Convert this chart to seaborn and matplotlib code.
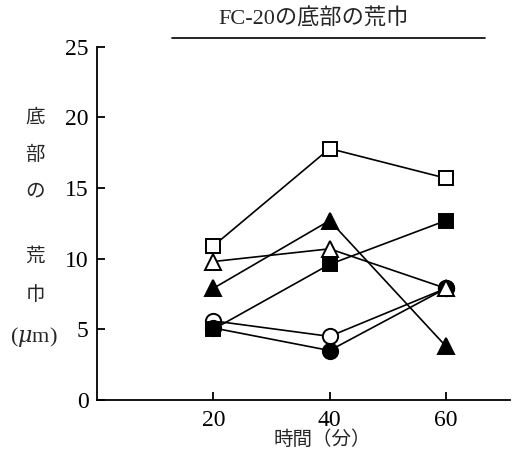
import matplotlib
matplotlib.use("Agg")
import matplotlib.pyplot as plt
import seaborn as sns
import pandas as pd

sns.set_theme(style="ticks")
plt.rcParams['font.family'] = ['Liberation Serif', 'Noto Sans CJK JP']
plt.rcParams['mathtext.fontset'] = 'dejavuserif'

times = [20, 40, 60]
open_square = [10.9, 17.8, 15.7]
filled_square = [5.0, 9.6, 12.7]
open_triangle = [9.8, 10.7, 7.9]
filled_triangle = [7.9, 12.7, 3.8]
open_circle = [5.6, 4.5, 7.9]
filled_circle = [5.1, 3.5, 7.9]

series = [
    ("open_circle", open_circle, "o", "white"),
    ("filled_circle", filled_circle, "o", "black"),
    ("open_triangle", open_triangle, "^", "white"),
    ("filled_triangle", filled_triangle, "^", "black"),
    ("open_square", open_square, "s", "white"),
    ("filled_square", filled_square, "s", "black"),
]

fig = plt.figure(figsize=(5.13, 4.55), dpi=100)
ax = fig.add_axes([0.189, 0.121, 0.805, 0.776])

for i, (name, vals, mk, fc) in enumerate(series):
    df = pd.DataFrame({"t": times, "v": vals})
    ms = 11 if mk == "o" else (12 if mk == "^" else 10)
    sns.lineplot(data=df, x="t", y="v", ax=ax, color="black", linewidth=1.2,
                 marker=mk, markersize=ms, markerfacecolor=fc,
                 markeredgecolor="black", markeredgewidth=1.4,
                 errorbar=None, zorder=3 + i)

ax.set_xlim(0, 71)
ax.set_ylim(0, 25)
ax.set_xticks([20, 40, 60])
ax.set_yticks([0, 5, 10, 15, 20, 25])
ax.tick_params(direction="in", length=6, width=1.3, labelsize=17, colors="black", pad=7)
ax.tick_params(axis="y", pad=6)
for s in ["top", "right"]:
    ax.spines[s].set_visible(False)
for s in ["left", "bottom"]:
    ax.spines[s].set_linewidth(1.3)
    ax.spines[s].set_color("black")
ax.set_xlabel("")
ax.set_ylabel("")

# title with underline
fig.text(0.612, 0.958, "FC-20の底部の荒巾", ha="center", va="center", fontsize=16)
fig.add_artist(plt.Line2D([0.335, 0.945], [0.917, 0.917], color="black", linewidth=1.2))

# x label
fig.text(0.628, 0.033, "時間（分）", ha="center", va="center", fontsize=14)

# vertical stacked y label
ychars = [("底", 118), ("部", 155), ("の", 192), ("荒", 257), ("巾", 295)]
for ch, py in ychars:
    fig.text(35 / 513, 1 - py / 455, ch, ha="center", va="center", fontsize=14)
fig.text(34 / 513, 1 - 337 / 455, "($\\mu$m)", ha="center", va="center", fontsize=16)

fig.savefig("out.png", dpi=100)
